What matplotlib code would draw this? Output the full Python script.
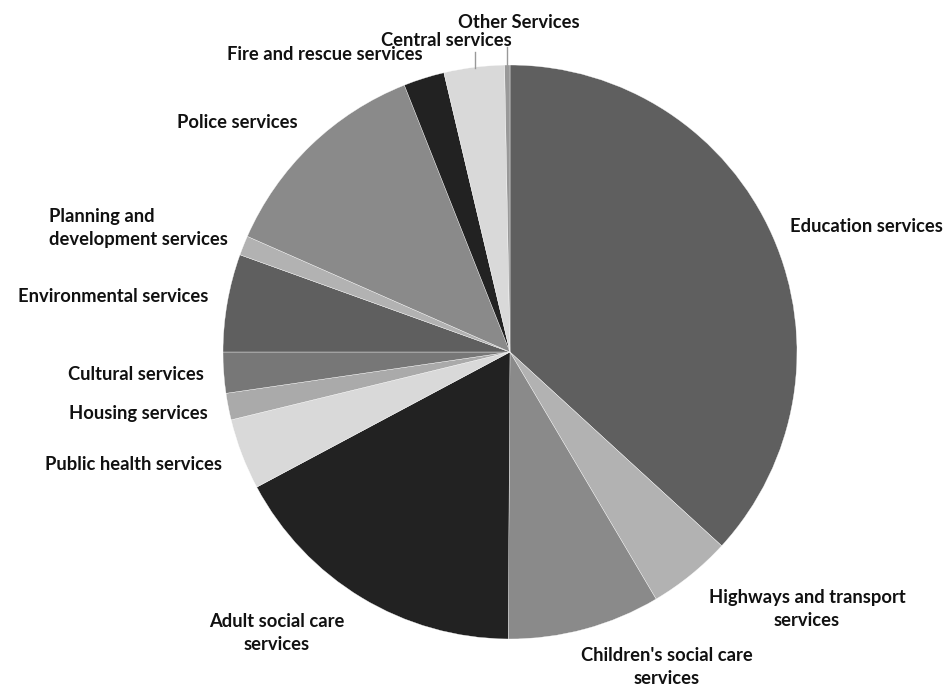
import matplotlib
matplotlib.use("Agg")
import matplotlib.pyplot as plt

# spending share by service (%), read clockwise from 12 o'clock
services = ["Education services", "Highways and transport\nservices",
            "Children's social care\nservices", "Adult social care\nservices",
            "Public health services", "Housing services", "Cultural services",
            "Environmental services", "Planning and\ndevelopment services",
            "Police services", "Fire and rescue services", "Central services",
            "Other Services"]
shares = [36.8, 4.7, 8.6, 17.1, 4.0, 1.5, 2.3, 5.5, 1.1, 12.4, 2.3, 3.4, 0.3]
greys = ["#5f5f5f", "#b2b2b2", "#8a8a8a", "#222222", "#d9d9d9", "#aaaaaa",
         "#777777", "#5f5f5f", "#b2b2b2", "#8a8a8a", "#222222", "#d9d9d9",
         "#999999"]

# label anchors in pixels (x, y from top), box alignment, line alignment
label_pos = [(790, 226, "left", "left"), (807, 609, "center", "center"),
             (667, 667, "center", "center"), (277, 633, "center", "center"),
             (222, 465, "right", "center"), (208, 413, "right", "center"),
             (204, 374, "right", "center"), (208, 296, "right", "center"),
             (228, 228, "right", "left"), (237, 122, "center", "center"),
             (325, 55, "center", "center"), (446, 40, "center", "center"),
             (519, 22, "center", "center")]

W, H = 947, 687
fig = plt.figure(figsize=(W / 100, H / 100), dpi=100)
ax = fig.add_axes([0, 0, 1, 1])

cx, cy, r = 510, H - 352, 287
ax.pie(shares, colors=greys, startangle=90, counterclock=False,
       center=(cx, cy), radius=r, frame=True,
       wedgeprops=dict(linewidth=0.25, edgecolor="white"))
ax.set_xlim(0, W)
ax.set_ylim(0, H)
ax.set_aspect("equal")
ax.axis("off")

for name, (x, y, ha, ma) in zip(services, label_pos):
    ax.text(x, H - y, name, ha=ha, va="center", multialignment=ma,
            fontsize=13.2, fontweight="bold", family="Lato", color="#111111",
            linespacing=1.45)

# leader lines for the two thin slices at the top
ax.plot([475, 475], [H - 52, H - 68], color="#999999", lw=1)
ax.plot([507, 507], [H - 47, H - 68], color="#999999", lw=1)

fig.savefig("out.png", dpi=100)
